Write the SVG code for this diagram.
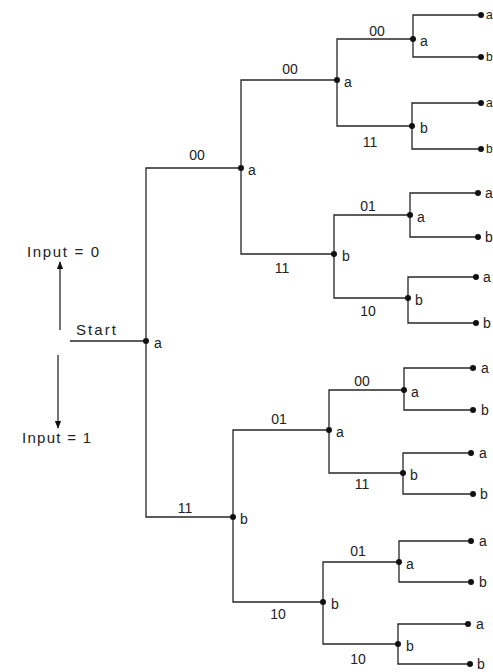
<svg xmlns="http://www.w3.org/2000/svg" width="493" height="672" viewBox="0 0 493 672">
<defs>
<style>
.w{fill:none;stroke:#262626;stroke-width:1.3}
.d{fill:#111}
text{font-family:"Liberation Sans",Arial,sans-serif;font-size:14px;fill:#222}
.s{font-size:15px}
.e{font-size:12px}
</style>
<marker id="ah" viewBox="0 0 10 10" refX="9" refY="5" markerWidth="8" markerHeight="9" orient="auto" markerUnits="userSpaceOnUse">
<path d="M0,1 L10,5 L0,9 Z" fill="#111"/>
</marker>
</defs>
<rect width="493" height="672" fill="#fff"/>
<g id="legend">
<text class="s" x="27" y="257" textLength="72" lengthAdjust="spacing">Input = 0</text>
<text class="s" x="22" y="443" textLength="69" lengthAdjust="spacing">Input = 1</text>
<line class="w" x1="60" y1="330" x2="60" y2="262" marker-end="url(#ah)"/>
<line class="w" x1="58" y1="355" x2="58" y2="428" marker-end="url(#ah)"/>
</g>
<g id="connectors" class="w">
<path d="M70,341 H146"/>
<path d="M146,341 V168 H241 M146,341 V517 H233"/>
<path d="M241,168 V80 H337 M241,168 V254 H334"/>
<path d="M233,517 V430 H329 M233,517 V602 H323"/>
<path d="M337,80 V39 H413 M337,80 V126 H412"/>
<path d="M334,254 V215 H410 M334,254 V298 H408"/>
<path d="M329,430 V390 H404 M329,430 V473 H403"/>
<path d="M323,602 V562 H399 M323,602 V644 H398"/>
<path d="M413,39 V15 H482 M413,39 V57 H482"/>
<path d="M412,126 V103 H482 M412,126 V149 H482"/>
<path d="M410,215 V193 H478 M410,215 V237 H478"/>
<path d="M408,298 V277 H476 M408,298 V323 H476"/>
<path d="M404,390 V368 H473 M404,390 V410 H473"/>
<path d="M403,473 V453 H471 M403,473 V494 H473"/>
<path d="M399,562 V541 H471 M399,562 V582 H471"/>
<path d="M398,644 V624 H468 M398,644 V664 H470"/>
</g>
<g id="edge-labels">
<text class="s" x="76" y="335" textLength="40" lengthAdjust="spacing">Start</text>
<text x="197" y="160" text-anchor="middle">00</text>
<text x="185" y="513" text-anchor="middle">11</text>
<text x="290" y="74" text-anchor="middle">00</text>
<text x="282" y="273" text-anchor="middle">11</text>
<text x="279" y="424" text-anchor="middle">01</text>
<text x="278" y="619" text-anchor="middle">10</text>
<text x="377" y="36" text-anchor="middle">00</text>
<text x="370" y="147" text-anchor="middle">11</text>
<text x="368" y="211" text-anchor="middle">01</text>
<text x="368" y="316" text-anchor="middle">10</text>
<text x="362" y="386" text-anchor="middle">00</text>
<text x="362" y="489" text-anchor="middle">11</text>
<text x="358" y="556" text-anchor="middle">01</text>
<text x="358" y="664" text-anchor="middle">10</text>
</g>
<g id="n-root"><circle class="d" cx="146" cy="341" r="3"/><text x="154" y="348">a</text></g>
<g id="n-A"><circle class="d" cx="241" cy="168" r="3"/><text x="248" y="175">a</text></g>
<g id="n-B"><circle class="d" cx="233" cy="517" r="3"/><text x="240" y="524">b</text></g>
<g id="n-AA"><circle class="d" cx="337" cy="80" r="3"/><text x="344" y="87">a</text></g>
<g id="n-AB"><circle class="d" cx="334" cy="254" r="3"/><text x="342" y="261">b</text></g>
<g id="n-BA"><circle class="d" cx="329" cy="430" r="3"/><text x="336" y="437">a</text></g>
<g id="n-BB"><circle class="d" cx="323" cy="602" r="3"/><text x="331" y="609">b</text></g>
<g id="n-AAA"><circle class="d" cx="413" cy="39" r="3"/><text x="420" y="46">a</text></g>
<g id="n-AAB"><circle class="d" cx="412" cy="126" r="3"/><text x="420" y="133">b</text></g>
<g id="n-ABA"><circle class="d" cx="410" cy="215" r="3"/><text x="417" y="222">a</text></g>
<g id="n-ABB"><circle class="d" cx="408" cy="298" r="3"/><text x="415" y="305">b</text></g>
<g id="n-BAA"><circle class="d" cx="404" cy="390" r="3"/><text x="411" y="397">a</text></g>
<g id="n-BAB"><circle class="d" cx="403" cy="473" r="3"/><text x="410" y="480">b</text></g>
<g id="n-BBA"><circle class="d" cx="399" cy="562" r="3"/><text x="406" y="569">a</text></g>
<g id="n-BBB"><circle class="d" cx="398" cy="644" r="3"/><text x="406" y="651">b</text></g>
<g id="leaf-1"><circle class="d" cx="481" cy="15" r="3"/><text class="e" x="486" y="19">a</text></g>
<g id="leaf-2"><circle class="d" cx="481" cy="57" r="3"/><text class="e" x="486" y="61">b</text></g>
<g id="leaf-3"><circle class="d" cx="481" cy="103" r="3"/><text class="e" x="486" y="107">a</text></g>
<g id="leaf-4"><circle class="d" cx="481" cy="149" r="3"/><text class="e" x="486" y="153">b</text></g>
<g id="leaf-5"><circle class="d" cx="478" cy="193" r="3"/><text x="485" y="198">a</text></g>
<g id="leaf-6"><circle class="d" cx="478" cy="237" r="3"/><text x="485" y="242">b</text></g>
<g id="leaf-7"><circle class="d" cx="476" cy="277" r="3"/><text x="483" y="282">a</text></g>
<g id="leaf-8"><circle class="d" cx="476" cy="323" r="3"/><text x="483" y="328">b</text></g>
<g id="leaf-9"><circle class="d" cx="473" cy="368" r="3"/><text x="481" y="373">a</text></g>
<g id="leaf-10"><circle class="d" cx="473" cy="410" r="3"/><text x="481" y="415">b</text></g>
<g id="leaf-11"><circle class="d" cx="471" cy="453" r="3"/><text x="479" y="458">a</text></g>
<g id="leaf-12"><circle class="d" cx="473" cy="494" r="3"/><text x="480" y="499">b</text></g>
<g id="leaf-13"><circle class="d" cx="471" cy="541" r="3"/><text x="479" y="546">a</text></g>
<g id="leaf-14"><circle class="d" cx="471" cy="582" r="3"/><text x="479" y="587">b</text></g>
<g id="leaf-15"><circle class="d" cx="468" cy="624" r="3"/><text x="476" y="629">a</text></g>
<g id="leaf-16"><circle class="d" cx="470" cy="664" r="3"/><text x="477" y="669">b</text></g>
</svg>
